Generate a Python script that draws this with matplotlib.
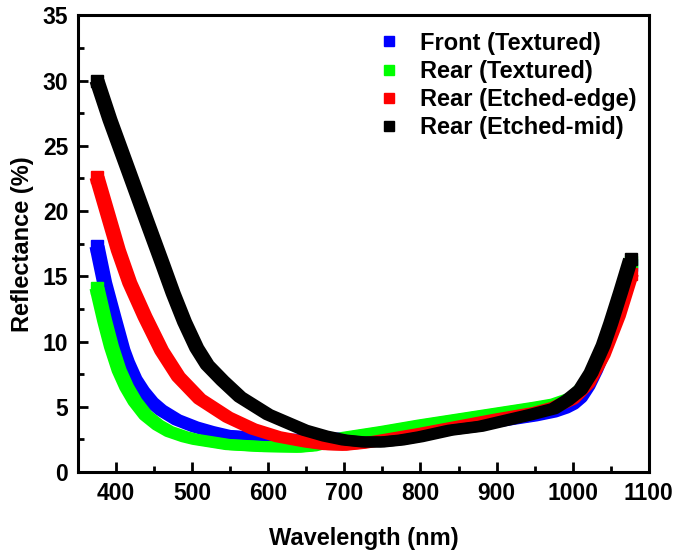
import matplotlib
matplotlib.use("Agg")
import matplotlib.pyplot as plt
from matplotlib.transforms import ScaledTranslation

plt.rcParams['font.family'] = ['Liberation Sans', 'DejaVu Sans']
plt.rcParams['font.weight'] = 'bold'

# Reflectance spectra (wavelength in nm, reflectance in %)
wl_front = [375, 385, 397, 409, 415, 425, 435, 447, 459, 480, 504, 525, 547, 570, 591, 620, 650,
            700, 750, 800, 850, 900, 950, 975, 990, 1000, 1010, 1020, 1030, 1040, 1060, 1076]
r_front = [17.3, 14.5, 11.9, 9.35, 8.4, 7.1, 6.2, 5.35, 4.75, 4.0, 3.45, 3.1, 2.8, 2.7, 2.6, 2.5, 2.5,
           2.6, 2.9, 3.2, 3.5, 3.85, 4.3, 4.6, 4.9, 5.2, 5.7, 6.6, 7.8, 9.2, 12.5, 15.9]

wl_rear_tex = [375, 385, 394, 404, 414, 425, 439, 455, 470, 490, 504, 547, 591, 640, 660, 680,
               700, 750, 800, 850, 900, 950, 975, 1000, 1020, 1040, 1060, 1076]
r_rear_tex = [14.1, 11.6, 9.6, 7.8, 6.5, 5.4, 4.35, 3.6, 3.1, 2.7, 2.5, 2.1, 1.95, 1.9, 2.0, 2.3,
              2.65, 3.1, 3.6, 4.05, 4.5, 4.95, 5.2, 5.7, 6.9, 9.4, 12.6, 16.1]

wl_rear_edge = [375, 390, 403, 418, 438, 460, 482, 510, 547, 580, 613, 650, 675,
                700, 725, 750, 800, 850, 900, 950, 975, 1000, 1020, 1040, 1060, 1077]
r_rear_edge = [22.6, 19.6, 17.0, 14.5, 11.9, 9.3, 7.3, 5.6, 4.2, 3.3, 2.7, 2.3, 2.1,
               2.05, 2.2, 2.45, 2.95, 3.5, 4.05, 4.55, 4.95, 5.6, 6.8, 9.0, 12.0, 15.2]

wl_rear_mid = [375, 392, 417, 440, 462, 475, 490, 506, 520, 540, 563, 600, 648, 675,
               700, 725, 750, 775, 800, 839, 879, 901, 945, 975, 993, 1010, 1024, 1040,
               1050, 1063, 1076]
r_rear_mid = [30.0, 27.0, 23.0, 19.3, 15.8, 13.7, 11.5, 9.5, 8.2, 7.0, 5.75, 4.4, 3.2, 2.75,
              2.45, 2.3, 2.3, 2.45, 2.7, 3.2, 3.5, 3.8, 4.4, 4.85, 5.5, 6.3, 7.6, 9.7,
              11.4, 13.8, 16.3]

series = [
    ("Front (Textured)", wl_front, r_front, "#0000ff"),
    ("Rear (Textured)", wl_rear_tex, r_rear_tex, "#00ff00"),
    ("Rear (Etched-edge)", wl_rear_edge, r_rear_edge, "#ff0000"),
    ("Rear (Etched-mid)", wl_rear_mid, r_rear_mid, "#000000"),
]

xticks = [400, 500, 600, 700, 800, 900, 1000, 1100]
yticks = [0, 5, 10, 15, 20, 25, 30, 35]

fig = plt.figure(figsize=(6.78, 5.52), dpi=100)
ax = fig.add_axes([0.115, 0.145, 0.842, 0.827])

# Each trace is a trail of square symbols: stroke it with a slightly wide pen
for label, x, y, c in series:
    for dx in (-2.0, 2.0):
        tr = ax.transData + ScaledTranslation(dx / 100, 0, fig.dpi_scale_trans)
        ax.plot(x, y, color=c, lw=8.0, transform=tr,
                solid_joinstyle='round', solid_capstyle='butt')
    ax.plot(x, y, ls='none', marker='s', ms=8.0, color=c, markevery=[0, -1])
    ax.plot([], [], ls='none', marker='s', ms=7.2, color=c, label=label)

ax.set_xlim(350, 1100)
ax.set_ylim(0, 35)
ax.set_xticks(xticks)
ax.set_yticks(yticks)
ax.set_xticks([450, 550, 650, 750, 850, 950, 1050], minor=True)
ax.set_yticks([2.5, 7.5, 12.5, 17.5, 22.5, 27.5, 32.5], minor=True)

ax.tick_params(axis='both', which='major', direction='in', length=7, width=2,
               labelsize=16.5, pad=7)
ax.tick_params(axis='both', which='minor', direction='in', length=4, width=2)
ax.tick_params(top=False, right=False)
for lbl in ax.get_xticklabels() + ax.get_yticklabels():
    lbl.set_fontweight('bold')
for s in ax.spines.values():
    s.set_linewidth(2.2)

ax.set_xlabel("Wavelength (nm)", fontsize=17, fontweight='bold', labelpad=16)
ax.set_ylabel("Reflectance (%)", fontsize=17, fontweight='bold', labelpad=6)

handles, labels = ax.get_legend_handles_labels()
leg = ax.legend(handles, labels, loc='upper left', bbox_to_anchor=(0.516, 0.985),
                frameon=False, fontsize=17, handlelength=0.6, handletextpad=1.0,
                labelspacing=0.22, borderaxespad=0)
for t in leg.get_texts():
    t.set_fontweight('bold')

fig.savefig("out.png", dpi=100)
